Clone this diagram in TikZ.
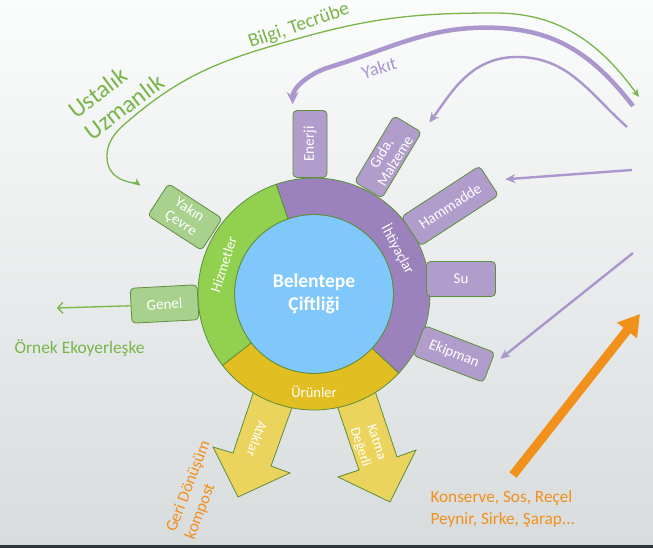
\documentclass[tikz,border=0pt]{standalone}
\usepackage{fontspec}
\setmainfont{Carlito}
\usepackage{xcolor}
\usepackage{tikz}
\usetikzlibrary{arrows.meta, calc}
\definecolor{farmblue}{RGB}{128, 200, 252}
\definecolor{ringgreen}{RGB}{146, 208, 80}
\definecolor{ringpurple}{RGB}{155, 130, 188}
\definecolor{ringyellow}{RGB}{225, 190, 33}
\definecolor{boxpurple}{RGB}{177, 157, 203}
\definecolor{boxgreen}{RGB}{169, 209, 142}
\definecolor{arrowyellow}{RGB}{234, 212, 94}
\definecolor{edgegreen}{RGB}{94, 142, 60}
\definecolor{linepurple}{RGB}{171, 150, 205}
\definecolor{textgreen}{RGB}{121, 181, 72}
\definecolor{textorange}{RGB}{242, 144, 28}
\definecolor{bgtop}{RGB}{251, 252, 252}
\definecolor{bgbottom}{RGB}{216, 220, 221}
\definecolor{frameline}{RGB}{46, 52, 64}

\begin{document}
\begin{tikzpicture}[
    x=1pt, y=1pt,
    box/.style={rectangle, rounded corners=4pt, draw=edgegreen, line width=0.8pt, text=white, font=\fontsize{15}{16}\selectfont, align=center, inner sep=0pt},
    needbox/.style={box, fill=boxpurple},
    servbox/.style={box, fill=boxgreen},
    ringlabel/.style={text=white, font=\fontsize{14.5}{17}\selectfont},
    sector/.style={draw=edgegreen, line width=0.8pt},
    flow/.style={-{Stealth[length=10pt,width=9pt]}, linepurple, line width=2.4pt},
    know/.style={{Stealth[length=8pt,width=7pt]}-{Stealth[length=8pt,width=7pt]}, textgreen, line width=1.3pt},
]
\useasboundingbox (0,0) rectangle (653,548);
\fill[top color=bgtop, bottom color=bgbottom] (0,0) rectangle (653,548);
\fill[frameline] (0,0) rectangle (653,2.5);

% Outputs (yellow arrows, behind the ring)
\filldraw[fill=arrowyellow, draw=edgegreen, line width=0.8pt] (260,175) -- (299,160) -- (271,82) -- (290,75) -- (238,51) -- (213,101) -- (233,95) -- cycle;
\filldraw[fill=arrowyellow, draw=edgegreen, line width=0.8pt] (331,160) -- (370,172) -- (397,91) -- (416,98) -- (390,46) -- (338,71) -- (359,78) -- cycle;
\node[ringlabel, rotate=-109.7, font=\fontsize{14}{17}\selectfont] (atik) at (257,109) {Atıklar};
\node[ringlabel, rotate=-71.5, align=center, font=\fontsize{14}{17}\selectfont] (katma) at (368,103) {Katma\\Değerli};

% Farm and ring
\node[circle, fill=farmblue, draw=edgegreen, line width=0.8pt, minimum size=159pt, inner sep=0pt] (farm) at (314,254) {};
\filldraw[sector, fill=ringgreen] ([shift={(109:116)}]farm.center) arc[start angle=109, end angle=218, radius=116pt] -- ([shift={(218:79.5)}]farm.center) arc[start angle=218, end angle=109, radius=79.5pt] -- cycle;
\filldraw[sector, fill=ringyellow] ([shift={(218:116)}]farm.center) arc[start angle=218, end angle=317, radius=116pt] -- ([shift={(317:79.5)}]farm.center) arc[start angle=317, end angle=218, radius=79.5pt] -- cycle;
\filldraw[sector, fill=ringpurple] ([shift={(-43:116)}]farm.center) arc[start angle=-43, end angle=109, radius=116pt] -- ([shift={(109:79.5)}]farm.center) arc[start angle=109, end angle=-43, radius=79.5pt] -- cycle;
\node[text=white, font=\fontsize{19.5}{23}\selectfont\bfseries, align=center] (farmname) at (farm.center) {Belentepe\\Çiftliği};

\node[ringlabel, rotate=72] (hizmet) at ([shift={(162:95)}]farm.center) {Hizmetler};
\node[ringlabel, rotate=-62] (ihtiyac) at ([shift={(28:95)}]farm.center) {İhtiyaçlar};
\node[ringlabel] (urun) at ([shift={(270:98)}]farm.center) {Ürünler};

% Needs (purple boxes)
\node[needbox, minimum width=67pt, minimum height=34pt, rotate=90] (enerji) at (310,404) {Enerji};
\node[needbox, minimum width=77pt, minimum height=32pt, rotate=59] (gida) at (388,391) {Gıda,\\Malzeme};
\node[needbox, minimum width=93pt, minimum height=35pt, rotate=33] (hammadde) at (450,342) {Hammadde};
\node[needbox, minimum width=69pt, minimum height=35pt] (su) at (461,269) {Su};
\node[needbox, minimum width=75pt, minimum height=32pt, rotate=-21] (ekipman) at (454,194) {Ekipman};

% Services (green boxes)
\node[servbox, minimum width=64pt, minimum height=38pt, rotate=-33] (yakin) at (185,331) {Yakın\\Çevre};
\node[servbox, minimum width=67pt, minimum height=35pt, rotate=3] (genel) at (164.5,244) {Genel};

% Inputs from the right
\coordinate (yakitR) at (633,442);
\coordinate (gidaR) at (627,421);
\coordinate (hamR) at (632,378);
\coordinate (ekipR) at (633,295);
\draw[flow, line width=4.5pt, -{Stealth[length=12pt,width=12pt]}, shorten >=6pt] (yakitR) to[out=128, in=-3] (500,520) to[out=177, in=17] (330,481) to[out=197, in=90] (enerji.north east);
\draw[flow, shorten >=12pt] (gidaR) to[out=138, in=0] (517,491) to[out=180, in=53] (gida.south east);
\draw[flow, shorten >=16pt] (hamR) -- (hammadde.east);
\draw[flow, shorten >=14pt] (ekipR) -- (ekipman.east);
\node[text=linepurple, font=\fontsize{18.5}{20}\selectfont, rotate=17] (yakit) at (379,480) {Yakıt};

% Knowledge (green)
\coordinate (bilgiR) at (639,451);
\draw[know, shorten >=22pt] (bilgiR) to[out=126, in=0] (495,535) to[out=180, in=15.6] (300,510) to[out=195.6, in=40] (133,431) to[out=220, in=90] (107,391) to[out=-90, in=142] (yakin.west);
\node[text=textgreen, font=\fontsize{19.5}{22}\selectfont, rotate=19] (bilgi) at (299,522) {Bilgi, Tecrübe};
\node[text=textgreen, font=\fontsize{24.5}{27}\selectfont, rotate=37, align=left] (usta) at (116,452) {Ustalık\\Uzmanlık};

\coordinate (ornekE) at (57,240);
\draw[-{Straight Barb[length=5pt,width=11pt]}, textgreen, line width=1.3pt] (genel.west) -- (ornekE);
\node[text=textgreen, font=\fontsize{17.4}{20}\selectfont, anchor=west] (ornek) at (11,200) {Örnek Ekoyerleşke};

% Outputs (labels and products)
\node[text=textorange, font=\fontsize{16.5}{20}\selectfont, rotate=69, align=left] (geri) at (198,58) {Geri Dönüşüm\\kompost};
\coordinate (orS) at (513,73);
\coordinate (orE) at (640,234);
\draw[-{Triangle[length=21pt,width=24pt]}, textorange, line width=9pt] (orS) -- (orE);
\node[text=textorange, font=\fontsize{17.2}{22}\selectfont, anchor=west, align=left] (konserve) at (427,39) {Konserve, Sos, Reçel\\Peynir, Sirke, Şarap...};

\end{tikzpicture}
\end{document}
